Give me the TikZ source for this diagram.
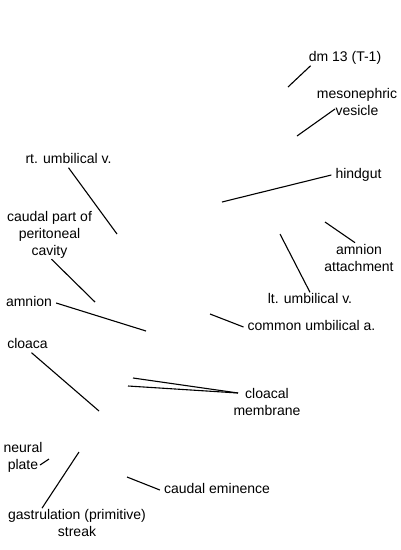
\documentclass[tikz,border=0pt]{standalone}
\usepackage{fontspec}
\setmainfont{Liberation Sans}
\newcommand\lblfont{\fontsize{14}{17}\selectfont}

\begin{document}
\begin{tikzpicture}[x=1pt,y=-1pt,
  lbl/.style={font=\lblfont,inner xsep=4pt,inner ysep=1pt,text height=10pt,text depth=3pt},
  lbls/.style={font=\lblfont,inner xsep=4pt,inner ysep=1pt,align=center},
  ptr/.style={line width=1.1pt}]
\useasboundingbox (0,0) rectangle (400,550);
\node[lbl] (dm) at (345,58) {dm 13 (T-1)};
\node[lbls] (meso) at (357,101.5) {mesonephric\\vesicle};
\node[lbl] (hind) at (358.5,175) {hindgut};
\node[lbl] (rtu) at (68.5,160) {rt. umbilical v.};
\node[lbls] (cpp) at (49.5,234.5) {caudal part of\\peritoneal\\cavity};
\node[lbl] (amn) at (29,303) {amnion};
\node[lbls] (amat) at (359,257.5) {amnion\\attachment};
\node[lbl] (ltu) at (310,300) {lt. umbilical v.};
\node[lbl] (cua) at (311.5,327) {common umbilical a.};
\node[lbl] (clo) at (27.5,345) {cloaca};
\node[lbls] (clm) at (267,402) {cloacal\\membrane};
\node[lbls] (np) at (23,457) {neural\\plate};
\node[lbls] (gas) at (77,523) {gastrulation (primitive)\\streak};
\node[lbl] (cem) at (217,490) {caudal eminence};

\coordinate (dm-p) at (288,87);
\coordinate (meso-p) at (297,136);
\coordinate (hind-p) at (222,202);
\coordinate (rtu-p) at (117,234);
\coordinate (cpp-p) at (95,302);
\coordinate (amn-p) at (146,331);
\coordinate (amat-p) at (325,222);
\coordinate (ltu-p) at (280,234);
\coordinate (cua-p) at (210,314);
\coordinate (clo-p) at (99,411);
\coordinate (clm-p1) at (133,378);
\coordinate (clm-p2) at (128,386);
\coordinate (np-p) at (49,459);
\coordinate (gas-p) at (79,452);
\coordinate (cem-p) at (127,477);

\draw[ptr] ([xshift=6pt]dm.south west) -- (dm-p);
\draw[ptr] ([xshift=-22pt,yshift=-7.5pt]meso.center) -- (meso-p);
\draw[ptr] (hind.west) -- (hind-p);
\draw[ptr] (rtu.south) -- (rtu-p);
\draw[ptr] ([xshift=2pt]cpp.south) -- (cpp-p);
\draw[ptr] (amn.east) -- (amn-p);
\draw[ptr] ([xshift=-4pt]amat.north) -- (amat-p);
\draw[ptr] (ltu.north) -- (ltu-p);
\draw[ptr] (cua.west) -- (cua-p);
\draw[ptr] ([xshift=4pt]clo.south) -- (clo-p);
\draw[ptr] ([xshift=-29pt,yshift=9pt]clm.center) -- (clm-p1);
\draw[ptr] ([xshift=-29pt,yshift=9pt]clm.center) -- (clm-p2);
\draw[ptr] ([xshift=17pt,yshift=-8pt]np.center) -- (np-p);
\draw[ptr] ([xshift=-35pt]gas.north) -- (gas-p);
\draw[ptr] (cem.west) -- (cem-p);
\end{tikzpicture}
\end{document}
